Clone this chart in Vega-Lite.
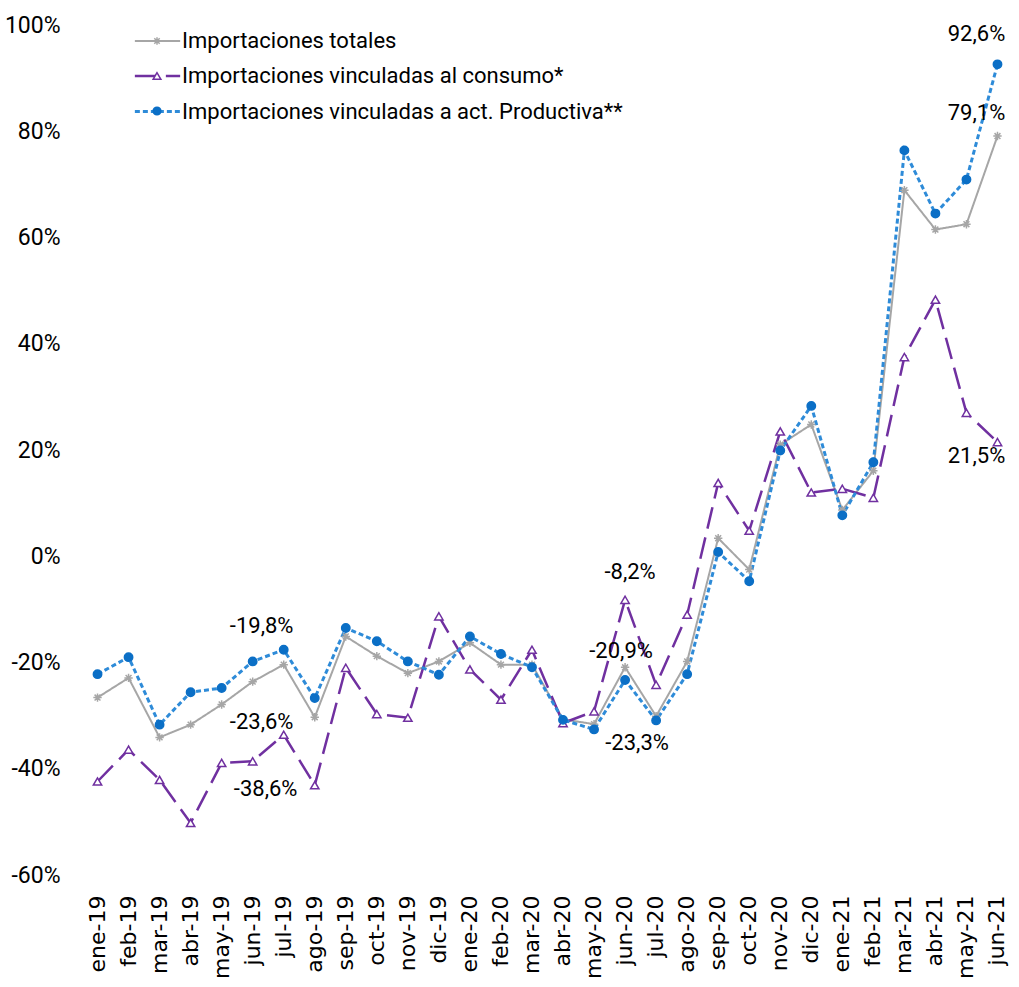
{
  "$schema": "https://vega.github.io/schema/vega-lite/v6.json",
  "autosize": {"type": "none"},
  "padding": {"left": 82, "top": 25, "right": 6, "bottom": 112},
  "width": 931,
  "height": 850,
  "background": "white",
  "config": {
    "view": {"stroke": null},
    "font": "Roboto",
    "text": {"font": "Roboto"}
  },
  "datasets": {
    "series": [
      {"m": "ene-19", "a": -26.6, "b": -42.4, "c": -22.2},
      {"m": "feb-19", "a": -22.9, "b": -36.4, "c": -19.0},
      {"m": "mar-19", "a": -34.1, "b": -42.1, "c": -31.7},
      {"m": "abr-19", "a": -31.7, "b": -50.2, "c": -25.6},
      {"m": "may-19", "a": -27.9, "b": -38.9, "c": -24.8},
      {"m": "jun-19", "a": -23.6, "b": -38.6, "c": -19.8},
      {"m": "jul-19", "a": -20.4, "b": -33.6, "c": -17.6},
      {"m": "ago-19", "a": -30.3, "b": -43.1, "c": -26.7},
      {"m": "sep-19", "a": -15.1, "b": -21.0, "c": -13.5},
      {"m": "oct-19", "a": -18.8, "b": -29.7, "c": -16.0},
      {"m": "nov-19", "a": -22.0, "b": -30.4, "c": -19.8},
      {"m": "dic-19", "a": -19.8, "b": -11.3, "c": -22.3},
      {"m": "ene-20", "a": -16.3, "b": -21.3, "c": -15.1},
      {"m": "feb-20", "a": -20.4, "b": -27.0, "c": -18.4},
      {"m": "mar-20", "a": -20.4, "b": -17.6, "c": -20.9},
      {"m": "abr-20", "a": -30.7, "b": -31.4, "c": -30.8},
      {"m": "may-20", "a": -31.6, "b": -29.2, "c": -32.6},
      {"m": "jun-20", "a": -20.9, "b": -8.2, "c": -23.3},
      {"m": "jul-20", "a": -30.1, "b": -24.2, "c": -30.9},
      {"m": "ago-20", "a": -19.8, "b": -11.0, "c": -22.2},
      {"m": "sep-20", "a": 3.4, "b": 13.8, "c": 0.8},
      {"m": "oct-20", "a": -2.5, "b": 4.8, "c": -4.7},
      {"m": "nov-20", "a": 21.0, "b": 23.5, "c": 19.9},
      {"m": "dic-20", "a": 24.8, "b": 12.0, "c": 28.3},
      {"m": "ene-21", "a": 8.7, "b": 12.7, "c": 7.7},
      {"m": "feb-21", "a": 16.1, "b": 11.0, "c": 17.7},
      {"m": "mar-21", "a": 68.9, "b": 37.5, "c": 76.4},
      {"m": "abr-21", "a": 61.5, "b": 48.3, "c": 64.5},
      {"m": "may-21", "a": 62.5, "b": 27.0, "c": 70.9},
      {"m": "jun-21", "a": 79.1, "b": 21.5, "c": 92.6}
    ],
    "labels": [
      {"m": "jun-19", "v": -19.8, "txt": "-19,8%"},
      {"m": "jun-19", "v": -23.6, "txt": "-23,6%"},
      {"m": "jun-19", "v": -38.6, "txt": "-38,6%"},
      {"m": "jun-20", "v": -8.2, "txt": "-8,2%"},
      {"m": "jun-20", "v": -20.9, "txt": "-20,9%"},
      {"m": "jun-20", "v": -23.3, "txt": "-23,3%"},
      {"m": "jun-21", "v": 92.6, "txt": "92,6%"},
      {"m": "jun-21", "v": 79.1, "txt": "79,1%"},
      {"m": "jun-21", "v": 21.5, "txt": "21,5%"}
    ]
  },
  "data": {"name": "series"},
  "encoding": {
    "x": {
      "field": "m", "type": "ordinal", "sort": null, "title": null,
      "axis": {
        "domain": false, "ticks": false, "labelAngle": -90, "labelAlign": "right", "labelBaseline": "middle",
        "labelPadding": 20, "labelFont": "DejaVu Sans", "labelFontSize": 22, "labelColor": "#000000"
      }
    }
  },
  "layer": [
    {
      "mark": {"type": "rule", "color": "#D9D9D9", "strokeWidth": 1},
      "encoding": {"y": {"datum": 0, "type": "quantitative", "scale": {"domain": [-60, 100]}}}
    },
    {
      "transform": [{"fold": ["a", "b", "c"], "as": ["s", "v"]}],
      "mark": {"type": "line", "strokeJoin": "miter"},
      "encoding": {
        "y": {
          "field": "v", "type": "quantitative", "title": null,
          "scale": {"domain": [-60, 100], "nice": false},
          "axis": {
            "values": [-60, -40, -20, 0, 20, 40, 60, 80, 100], "grid": false, "domain": false, "ticks": false,
            "labelExpr": "datum.value + '%'", "labelPadding": 22, "labelFontSize": 23, "labelColor": "#000000",
            "labelFont": "Roboto"
          }
        },
        "color": {
          "field": "s", "type": "nominal",
          "scale": {"range": ["#A6A6A6", "#7030A0", "#2E8BD8"]},
          "legend": {
            "orient": "none", "legendX": 51, "legendY": -8, "title": null, "symbolType": "stroke",
            "symbolSize": 2050, "symbolStrokeWidth": 2.5, "padding": 0, "rowPadding": -4, "labelOffset": 0,
            "labelFontSize": 22, "labelColor": "#000000", "labelFont": "Roboto",
            "labelExpr": "datum.value == 'a' ? 'Importaciones totales' : datum.value == 'b' ? 'Importaciones vinculadas al consumo*' : 'Importaciones vinculadas a act. Productiva**'",
            "labelLimit": 700
          }
        },
        "strokeDash": {
          "field": "s", "type": "nominal",
          "scale": {"range": [[1, 0], [22, 9], [5, 3]]},
          "legend": {
            "orient": "none", "legendX": 51, "legendY": -8, "title": null, "symbolType": "stroke",
            "symbolSize": 2050, "symbolStrokeWidth": 2.5, "padding": 0, "rowPadding": -4, "labelOffset": 0,
            "labelFontSize": 22, "labelColor": "#000000", "labelFont": "Roboto",
            "labelExpr": "datum.value == 'a' ? 'Importaciones totales' : datum.value == 'b' ? 'Importaciones vinculadas al consumo*' : 'Importaciones vinculadas a act. Productiva**'",
            "labelLimit": 700
          }
        },
        "strokeWidth": {
          "field": "s", "type": "nominal",
          "scale": {"range": [2, 3, 1.5]},
          "legend": null
        }
      }
    },
    {
      "transform": [{"fold": ["a", "b", "c"], "as": ["k", "w"]}],
      "mark": {"type": "point", "strokeWidth": 1.5, "opacity": 1, "size": 70},
      "encoding": {
        "y": {"field": "w", "type": "quantitative", "scale": {"domain": [-60, 100], "nice": false}},
        "shape": {
          "field": "k", "type": "nominal",
          "scale": {"range": ["M-1,0L1,0M-0.7,-0.7L0.7,0.7M-0.7,0.7L0.7,-0.7M0,-1L0,1", "triangle-up", "circle"]},
          "legend": {
            "orient": "top-left", "offset": 11, "title": null, "symbolSize": 60, "symbolOffset": 59,
            "padding": 0, "rowPadding": 21, "labelOpacity": 0, "labelFontSize": 1, "labelExpr": "''", "symbolStrokeWidth": 1.5
          }
        },
        "fill": {
          "field": "k", "type": "nominal",
          "scale": {"range": ["#A6A6A6", "#FFFFFF", "#0B6FC6"]},
          "legend": {
            "orient": "top-left", "offset": 11, "title": null, "symbolSize": 60, "symbolOffset": 59,
            "padding": 0, "rowPadding": 21, "labelOpacity": 0, "labelFontSize": 1, "labelExpr": "''", "symbolStrokeWidth": 1.5
          }
        },
        "stroke": {
          "field": "k", "type": "nominal",
          "scale": {"range": ["#A6A6A6", "#7030A0", "#0B6FC6"]},
          "legend": {
            "orient": "top-left", "offset": 11, "title": null, "symbolSize": 60, "symbolOffset": 59,
            "padding": 0, "rowPadding": 21, "labelOpacity": 0, "labelFontSize": 1, "labelExpr": "''", "symbolStrokeWidth": 1.5
          }
        }
      }
    },
    {
      "data": {"name": "labels"},
      "transform": [{"filter": "datum.txt == '-19,8%'"}],
      "mark": {"type": "text", "dx": 9, "dy": -35, "fontSize": 22, "color": "#000000", "align": "center", "baseline": "middle"},
      "encoding": {"y": {"field": "v", "type": "quantitative"}, "text": {"field": "txt"}}
    },
    {
      "data": {"name": "labels"},
      "transform": [{"filter": "datum.txt == '-23,6%'"}],
      "mark": {"type": "text", "dx": 9, "dy": 40, "fontSize": 22, "color": "#000000", "align": "center", "baseline": "middle"},
      "encoding": {"y": {"field": "v", "type": "quantitative"}, "text": {"field": "txt"}}
    },
    {
      "data": {"name": "labels"},
      "transform": [{"filter": "datum.txt == '-38,6%'"}],
      "mark": {"type": "text", "dx": 13, "dy": 28, "fontSize": 22, "color": "#000000", "align": "center", "baseline": "middle"},
      "encoding": {"y": {"field": "v", "type": "quantitative"}, "text": {"field": "txt"}}
    },
    {
      "data": {"name": "labels"},
      "transform": [{"filter": "datum.txt == '-8,2%'"}],
      "mark": {"type": "text", "dx": 5, "dy": -28, "fontSize": 22, "color": "#000000", "align": "center", "baseline": "middle"},
      "encoding": {"y": {"field": "v", "type": "quantitative"}, "text": {"field": "txt"}}
    },
    {
      "data": {"name": "labels"},
      "transform": [{"filter": "datum.txt == '-20,9%'"}],
      "mark": {"type": "text", "dx": -4, "dy": -16, "fontSize": 22, "color": "#000000", "align": "center", "baseline": "middle"},
      "encoding": {"y": {"field": "v", "type": "quantitative"}, "text": {"field": "txt"}}
    },
    {
      "data": {"name": "labels"},
      "transform": [{"filter": "datum.txt == '-23,3%'"}],
      "mark": {"type": "text", "dx": 12, "dy": 63, "fontSize": 22, "color": "#000000", "align": "center", "baseline": "middle"},
      "encoding": {"y": {"field": "v", "type": "quantitative"}, "text": {"field": "txt"}}
    },
    {
      "data": {"name": "labels"},
      "transform": [{"filter": "datum.txt == '92,6%'"}],
      "mark": {"type": "text", "dx": -21, "dy": -30, "fontSize": 22, "color": "#000000", "align": "center", "baseline": "middle"},
      "encoding": {"y": {"field": "v", "type": "quantitative"}, "text": {"field": "txt"}}
    },
    {
      "data": {"name": "labels"},
      "transform": [{"filter": "datum.txt == '79,1%'"}],
      "mark": {"type": "text", "dx": -21, "dy": -23, "fontSize": 22, "color": "#000000", "align": "center", "baseline": "middle"},
      "encoding": {"y": {"field": "v", "type": "quantitative"}, "text": {"field": "txt"}}
    },
    {
      "data": {"name": "labels"},
      "transform": [{"filter": "datum.txt == '21,5%'"}],
      "mark": {"type": "text", "dx": -21, "dy": 14, "fontSize": 22, "color": "#000000", "align": "center", "baseline": "middle"},
      "encoding": {"y": {"field": "v", "type": "quantitative"}, "text": {"field": "txt"}}
    }
  ]
}
